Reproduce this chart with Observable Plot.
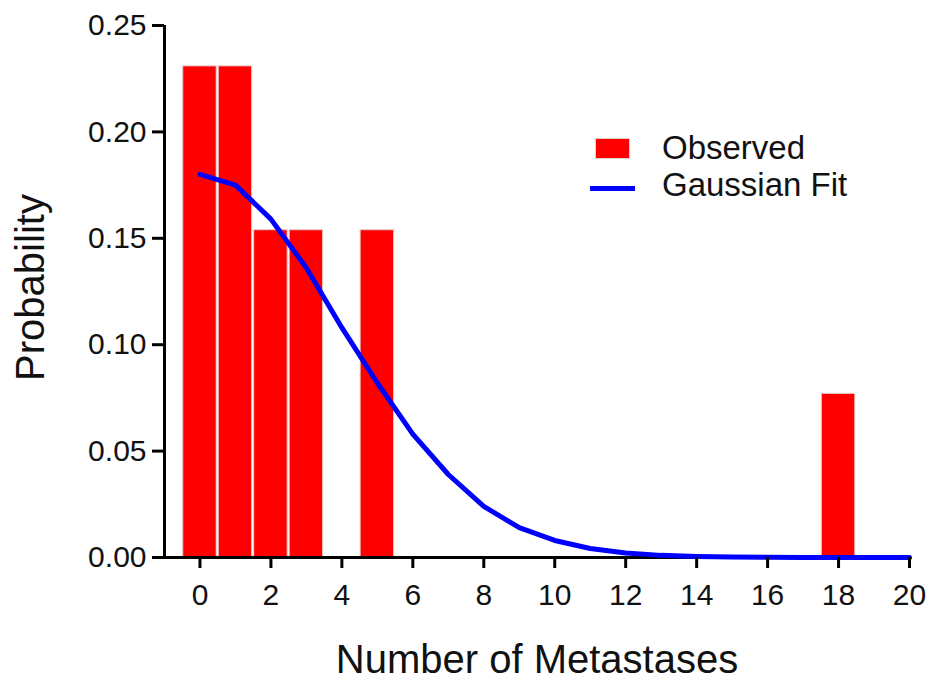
<!DOCTYPE html>
<html>
<head>
<meta charset="utf-8">
<script src="https://cdn.jsdelivr.net/npm/d3@7"></script>
<script src="https://cdn.jsdelivr.net/npm/@observablehq/plot@0.6"></script>
<style>
  html, body { margin: 0; padding: 0; background: #fff; }
  #wrap { position: relative; width: 930px; height: 681px; font-family: "Liberation Sans", Arial, sans-serif; color: #111; }
  .lg-text { position: absolute; font-size: 33px; line-height: 33px; white-space: nowrap; }
  .lg-swatch { position: absolute; }
</style>
</head>
<body>
<div id="wrap"></div>
<script>
// Observed histogram: number of metastases and probability
const counts = [0, 1, 2, 3, 5, 18];
const probs = [0.2308, 0.2308, 0.1538, 0.1538, 0.1538, 0.0769];

// Gaussian fit curve, read at integer x
const fitX = [0, 1, 2, 3, 4, 5, 6, 7, 8, 9, 10, 11, 12, 13, 14, 15, 16, 17, 18, 19, 20];
const fitY = [0.180, 0.175, 0.159, 0.136, 0.108, 0.082, 0.058, 0.039, 0.024, 0.014, 0.008, 0.0042, 0.0021, 0.001, 0.0005, 0.0002, 0.0001, 0, 0, 0, 0];

const xTicks = [0, 2, 4, 6, 8, 10, 12, 14, 16, 18, 20];
const yTicks = [0, 0.05, 0.10, 0.15, 0.20, 0.25];

const legendLabels = ["Observed", "Gaussian Fit"];
const xLabel = "Number of Metastases";
const yLabel = "Probability";

const bars = counts.map((c, i) => ({x: c, p: probs[i]}));
const fit = fitX.map((x, i) => ({x, y: fitY[i]}));

const chart = Plot.plot({
  width: 930,
  height: 681,
  marginLeft: 164,
  marginRight: 21,
  marginTop: 25,
  marginBottom: 124,
  style: {fontFamily: '"Liberation Sans", Arial, sans-serif', fontSize: "30px", color: "#111", background: "#fff"},
  x: {domain: [-1, 20]},
  y: {domain: [0, 0.25]},
  marks: [
    Plot.rectY(bars, {x1: d => d.x - 0.5, x2: d => d.x + 0.5, y: "p", fill: "#ff0000", stroke: "#e2cfcf", strokeWidth: 1, insetLeft: 1, insetRight: 1}),
    Plot.ruleY([0], {stroke: "#000", strokeWidth: 3}),
    Plot.ruleX([-1], {stroke: "#000", strokeWidth: 3}),
    Plot.line(fit, {x: "x", y: "y", stroke: "#0000ff", strokeWidth: 5}),
    Plot.axisX({ticks: xTicks, tickSize: 11, tickPadding: 15, strokeWidth: 3, stroke: "#000", label: null}),
    Plot.axisY({ticks: yTicks, tickSize: 12, tickPadding: 6, tickFormat: ".2f", strokeWidth: 3, stroke: "#000", label: null}),
    Plot.text([xLabel], {frameAnchor: "bottom", dy: 115, lineAnchor: "bottom", fontSize: 40, fill: "#111"}),
    Plot.text([yLabel], {frameAnchor: "left", textAnchor: "middle", dx: -121, dy: -4, rotate: -90, lineAnchor: "bottom", fontSize: 40, fill: "#111"})
  ]
});

const wrap = document.getElementById("wrap");
wrap.appendChild(chart);

// Legend overlay
const sw1 = document.createElement("div");
sw1.className = "lg-swatch";
Object.assign(sw1.style, {left: "595px", top: "138px", width: "33px", height: "19px", background: "#ff0000", border: "1px solid #e2cfcf"});
wrap.appendChild(sw1);
const sw2 = document.createElement("div");
sw2.className = "lg-swatch";
Object.assign(sw2.style, {left: "590px", top: "186px", width: "45px", height: "5px", background: "#0000ff"});
wrap.appendChild(sw2);
legendLabels.forEach((t, i) => {
  const d = document.createElement("div");
  d.className = "lg-text";
  d.textContent = t;
  d.style.left = "662px";
  d.style.top = (131 + i * 37) + "px";
  wrap.appendChild(d);
});
</script>
</body>
</html>
